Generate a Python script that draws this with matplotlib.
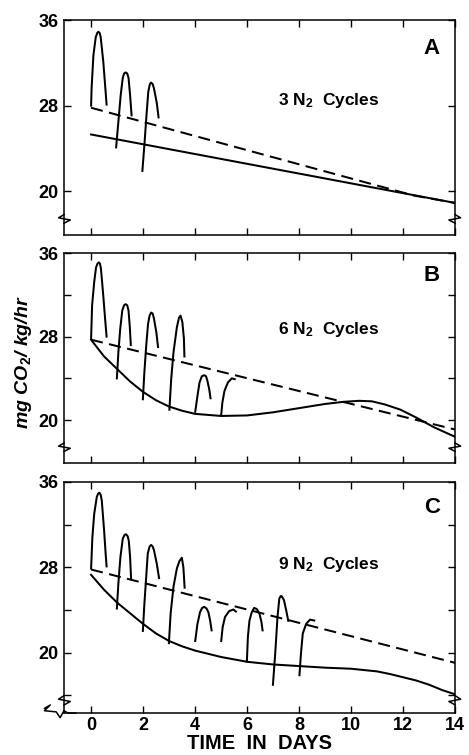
import matplotlib
matplotlib.use("Agg")
import matplotlib.pyplot as plt

plt.rcParams['font.family'] = ['Liberation Sans', 'DejaVu Sans']
plt.rcParams['mathtext.fontset'] = 'custom'
plt.rcParams['mathtext.rm'] = 'Liberation Sans:bold'
plt.rcParams['mathtext.it'] = 'Liberation Sans:italic:bold'
plt.rcParams['mathtext.default'] = 'it'

# ---- panel A : 3 N2 cycles ----
a_solid_x = [0, 14]
a_solid_y = [25.3, 18.9]
a_dash_x = [0, 12.4, 14]
a_dash_y = [27.8, 19.6, 18.9]
a_cyc_x = [[0.0, 0.02, 0.09, 0.18, 0.24, 0.28, 0.33, 0.37, 0.47, 0.55, 0.6],
           [0.96, 1.05, 1.14, 1.22, 1.27, 1.33, 1.39, 1.44, 1.5, 1.56],
           [1.97, 2.05, 2.14, 2.2, 2.26, 2.31, 2.37, 2.42, 2.53, 2.6]]
a_cyc_y = [[27.9, 29.6, 32.7, 34.4, 34.8, 34.9, 34.8, 34.4, 32.1, 29.6, 28.0],
           [24.0, 26.5, 29.0, 30.6, 31.0, 31.1, 31.0, 30.6, 29.0, 27.0],
           [21.8, 24.3, 27.4, 29.3, 30.0, 30.15, 30.0, 29.6, 28.2, 26.8]]

# ---- panel B : 6 N2 cycles ----
b_solid_x = [0, 0.5, 1, 1.5, 2, 2.5, 3, 3.5, 4, 5, 6, 7, 8, 9, 9.7, 10.3, 10.8,
             11.3, 11.9, 12.5, 13.2, 14]
b_solid_y = [27.7, 26.1, 24.9, 23.7, 22.7, 21.9, 21.3, 20.9, 20.6, 20.4, 20.45, 20.75,
             21.15, 21.55, 21.75, 21.85, 21.8, 21.5, 21.0, 20.25, 19.3, 18.4]
b_dash_x = [0, 14]
b_dash_y = [27.7, 19.1]
b_cyc_x = [[0.0, 0.04, 0.12, 0.19, 0.25, 0.3, 0.34, 0.38, 0.47, 0.54, 0.6],
           [0.99, 1.05, 1.12, 1.2, 1.27, 1.33, 1.39, 1.44, 1.49, 1.53],
           [1.99, 2.05, 2.12, 2.19, 2.25, 2.31, 2.37, 2.42, 2.51, 2.58],
           [3.01, 3.08, 3.17, 3.3, 3.38, 3.44, 3.51, 3.57, 3.59],
           [4.0, 4.09, 4.17, 4.26, 4.35, 4.42, 4.47, 4.54, 4.6],
           [5.0, 5.05, 5.13, 5.26, 5.41, 5.56]]
b_cyc_y = [[27.7, 31.0, 33.2, 34.6, 35.0, 35.1, 35.0, 34.5, 31.9, 29.7, 27.9],
           [23.9, 26.5, 28.7, 30.5, 31.0, 31.1, 31.0, 30.5, 28.9, 27.1],
           [21.9, 24.6, 27.1, 29.2, 30.0, 30.3, 30.2, 29.7, 28.4, 26.9],
           [20.9, 23.9, 26.5, 28.9, 29.8, 30.0, 29.4, 27.8, 26.0],
           [20.7, 22.3, 23.6, 24.2, 24.3, 24.2, 23.8, 23.0, 22.0],
           [20.4, 21.7, 22.8, 23.6, 24.0, 23.9]]

# ---- panel C : 9 N2 cycles ----
c_solid_x = [0, 0.5, 1, 1.5, 2, 2.5, 3, 3.5, 4, 5, 6, 7, 8, 9, 10, 11, 11.5, 12,
             12.5, 13, 13.5, 14]
c_solid_y = [27.3, 25.9, 24.7, 23.7, 22.7, 21.8, 21.1, 20.6, 20.2, 19.6, 19.15, 18.9,
             18.75, 18.6, 18.5, 18.25, 18.0, 17.7, 17.4, 17.0, 16.5, 16.1]
c_dash_x = [0, 14]
c_dash_y = [27.8, 19.05]
c_cyc_x = [[0.0, 0.05, 0.12, 0.22, 0.27, 0.32, 0.37, 0.41, 0.5, 0.56, 0.6],
           [0.99, 1.05, 1.13, 1.22, 1.29, 1.35, 1.41, 1.45, 1.5, 1.54],
           [1.99, 2.05, 2.12, 2.18, 2.25, 2.31, 2.37, 2.42, 2.53, 2.62],
           [2.99, 3.06, 3.17, 3.3, 3.4, 3.49, 3.55, 3.6],
           [4.0, 4.09, 4.19, 4.27, 4.35, 4.44, 4.51, 4.58, 4.64],
           [5.0, 5.06, 5.15, 5.31, 5.47, 5.6],
           [5.99, 6.03, 6.09, 6.18, 6.27, 6.37, 6.47, 6.55, 6.6],
           [6.99, 7.08, 7.17, 7.24, 7.29, 7.33, 7.38, 7.42, 7.5, 7.59],
           [8.01, 8.07, 8.14, 8.27, 8.42, 8.62]]
c_cyc_y = [[27.8, 30.8, 33.0, 34.6, 34.9, 35.0, 34.8, 34.3, 31.5, 29.3, 28.0],
           [24.05, 26.5, 29.0, 30.7, 31.05, 31.1, 30.9, 30.5, 29.0, 26.9],
           [21.95, 24.6, 27.1, 29.3, 29.95, 30.1, 29.95, 29.6, 28.3, 26.9],
           [20.8, 23.7, 26.2, 27.9, 28.6, 28.9, 28.0, 26.0],
           [21.0, 22.7, 23.8, 24.2, 24.3, 24.15, 23.8, 23.0, 22.0],
           [21.0, 22.4, 23.35, 23.9, 24.05, 23.8],
           [19.1, 21.5, 23.0, 23.8, 24.2, 24.1, 23.7, 22.9, 22.0],
           [16.9, 19.9, 23.4, 25.1, 25.3, 25.3, 25.1, 24.9, 24.0, 22.9],
           [17.8, 19.9, 21.8, 22.7, 23.1, 23.0]]

x_ticks = [0, 2, 4, 6, 8, 10, 12, 14]
y_ticks = [20, 28, 36]

panels = [
    dict(letter='A', n=3, sx=a_solid_x, sy=a_solid_y, dx=a_dash_x, dy=a_dash_y,
         cx=a_cyc_x, cy=a_cyc_y, ylim=(15.9, 36), minor=[],
         pos=[0.1365, 0.6887, 0.834, 0.2848], txt_y=28.5, let_y=33.3),
    dict(letter='B', n=6, sx=b_solid_x, sy=b_solid_y, dx=b_dash_x, dy=b_dash_y,
         cx=b_cyc_x, cy=b_cyc_y, ylim=(15.9, 36), minor=[24, 32],
         pos=[0.1365, 0.3868, 0.834, 0.2781], txt_y=28.7, let_y=33.8),
    dict(letter='C', n=9, sx=c_solid_x, sy=c_solid_y, dx=c_dash_x, dy=c_dash_y,
         cx=c_cyc_x, cy=c_cyc_y, ylim=(14.35, 36), minor=[16, 24, 32],
         pos=[0.1365, 0.0556, 0.834, 0.306], txt_y=28.3, let_y=33.6),
]

fig = plt.figure(figsize=(4.69, 7.55), dpi=100)
lw = 1.45

for i, p in enumerate(panels):
    ax = fig.add_axes(p['pos'])
    ax.plot(p['sx'], p['sy'], color='black', lw=lw)
    ax.plot(p['dx'], p['dy'], color='black', lw=lw, linestyle=(0, (6, 3.2)))
    for xs, ys in zip(p['cx'], p['cy']):
        ax.plot(xs, ys, color='black', lw=lw, solid_joinstyle='round',
                solid_capstyle='butt')
    ax.set_xlim(-1.04, 14)
    ax.set_ylim(*p['ylim'])
    ax.set_xticks(x_ticks)
    ax.set_yticks(y_ticks)
    ax.set_yticks(p['minor'], minor=True)
    ax.tick_params(which='both', direction='in', top=True, right=True,
                   length=5, width=1, labelsize=13)
    ax.tick_params(axis='y', pad=4)
    for lab in ax.get_yticklabels():
        lab.set_fontweight('bold')
    if i < 2:
        ax.tick_params(axis='x', labelbottom=False)
    else:
        ax.set_xticklabels([str(t) for t in x_ticks], fontweight='bold')
        ax.tick_params(axis='x', pad=3)
        ax.set_xlabel('TIME  IN  DAYS', fontsize=14.5, fontweight='bold', labelpad=0)
    for s in ax.spines.values():
        s.set_linewidth(1.1)
    ax.text(7.2, p['txt_y'], f"{p['n']} N$_2$  Cycles", fontsize=12.5,
            fontweight='bold', va='center', ha='left')
    ax.text(13.1, p['let_y'], p['letter'], fontsize=16, fontweight='bold',
            va='center', ha='center')
    # axis break marks on the left and right spines
    zy = 0.06 if i < 2 else 0.04
    for xs0, sgn in ((0.0, 1), (1.0, -1)):
        ax.plot([xs0, xs0 - 0.014 * sgn, xs0 + 0.016 * sgn, xs0],
                [zy + 0.035, zy + 0.02, zy + 0.01, zy - 0.005],
                transform=ax.transAxes, color='black', lw=1.1, clip_on=False)
    if i == 2:
        ax.plot([-0.05, -0.035, -0.05, -0.02, -0.01, 0.0, 0.01, 0.03],
                [0.02, 0.035, 0.01, 0.005, -0.02, 0.01, 0.0, 0.0],
                transform=ax.transAxes, color='black', lw=1.1, clip_on=False)

fig.text(0.05, 0.52, 'mg CO$_2$/ kg/hr', rotation=90, fontsize=14,
         fontstyle='italic', fontweight='bold', va='center', ha='center')

fig.savefig('out.png', dpi=100)
